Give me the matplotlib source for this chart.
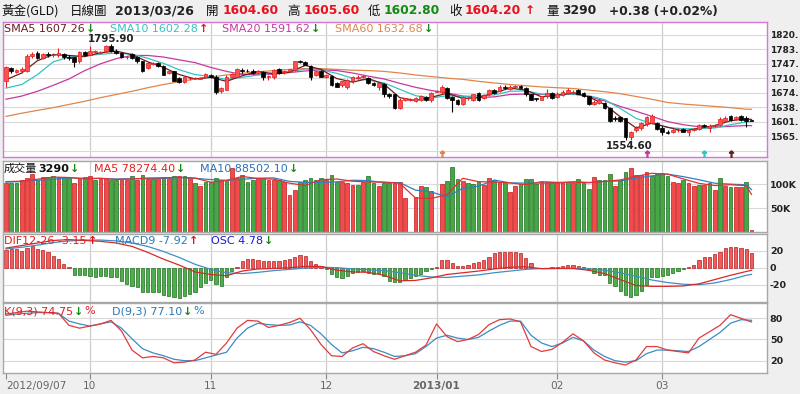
import numpy as np
import pandas as pd
import matplotlib
matplotlib.use('Agg')
import matplotlib.pyplot as plt

plt.rcParams['font.family'] = ['DejaVu Sans', 'Noto Sans CJK TC']
CJK = ['Noto Sans CJK TC', 'DejaVu Sans']

# one bar per weekday, 2012/09/07 .. 2013/03/26
dates = pd.bdate_range('2012-09-07', '2013-03-26')

opens = [1703, 1736, 1727, 1728, 1730, 1766, 1775, 1761, 1772, 1769,
         1768, 1772, 1764, 1763, 1753, 1776, 1770, 1776, 1775, 1778,
         1791, 1780, 1774, 1763, 1771, 1765, 1753, 1736, 1746, 1749,
         1741, 1724, 1728, 1711, 1701, 1711, 1711, 1710, 1713, 1720,
         1715, 1678, 1682, 1715, 1715, 1732, 1730, 1730, 1724, 1726,
         1713, 1713, 1735, 1726, 1730, 1732, 1754, 1751, 1741, 1719,
         1730, 1715, 1716, 1699, 1693, 1690, 1703, 1711, 1714, 1711,
         1699, 1690, 1696, 1671, 1670, 1637, 1657, 1657, 1654, 1657,
         1664, 1655, 1676, 1675, 1687, 1664, 1657, 1646, 1660, 1657,
         1674, 1661, 1670, 1682, 1678, 1688, 1685, 1688, 1691, 1686,
         1670, 1660, 1657, 1665, 1673, 1663, 1669, 1673, 1673, 1681,
         1673, 1665, 1646, 1649, 1648, 1636, 1610, 1613, 1610, 1564,
         1581, 1585, 1595, 1599, 1598, 1587, 1577, 1577, 1580, 1584,
         1577, 1581, 1584, 1594, 1586, 1590, 1594, 1604, 1615, 1608,
         1615, 1612, 1604.6]
highs = [1741, 1738, 1735, 1738, 1772, 1776, 1778, 1775, 1776, 1775,
         1787, 1775, 1770, 1765, 1778, 1779, 1791, 1781, 1780, 1795,
         1795.9, 1783, 1777, 1767, 1773, 1767, 1755, 1752, 1752, 1751,
         1743, 1731, 1730, 1713, 1715, 1715, 1714, 1714, 1723, 1722,
         1718, 1688, 1718, 1724, 1737, 1736, 1734, 1733, 1732, 1729,
         1718, 1734, 1737, 1731, 1735, 1754, 1756, 1754, 1744, 1730,
         1732, 1722, 1719, 1702, 1705, 1710, 1716, 1718, 1719, 1713,
         1701, 1700, 1699, 1674, 1672, 1660, 1662, 1660, 1664, 1668,
         1666, 1676, 1680, 1694, 1690, 1667, 1659, 1665, 1664, 1672,
         1676, 1671, 1684, 1685, 1693, 1694, 1693, 1694, 1693, 1688,
         1672, 1662, 1667, 1684, 1676, 1675, 1680, 1686, 1681, 1684,
         1675, 1667, 1655, 1659, 1651, 1639, 1616, 1615, 1612, 1578,
         1590, 1600, 1617, 1621, 1601, 1590, 1580, 1584, 1585, 1587,
         1584, 1587, 1596, 1597, 1595, 1597, 1613, 1615, 1618, 1617,
         1618, 1616, 1605.6]
lows = [1690, 1725, 1724, 1724, 1726, 1762, 1758, 1758, 1765, 1764,
        1764, 1760, 1757, 1738, 1750, 1767, 1768, 1773, 1772, 1776,
        1777, 1771, 1762, 1760, 1758, 1750, 1726, 1733, 1743, 1738,
        1718, 1721, 1703, 1699, 1699, 1707, 1708, 1708, 1711, 1711,
        1672, 1674, 1680, 1712, 1713, 1725, 1726, 1721, 1721, 1707,
        1706, 1710, 1722, 1722, 1727, 1730, 1750, 1743, 1707, 1716,
        1713, 1712, 1692, 1688, 1690, 1684, 1700, 1709, 1711, 1697,
        1692, 1682, 1664, 1662, 1633, 1633, 1654, 1654, 1651, 1654,
        1653, 1652, 1675, 1672, 1659, 1627, 1643, 1644, 1655, 1654,
        1654, 1658, 1667, 1672, 1675, 1683, 1682, 1686, 1684, 1667,
        1655, 1654, 1655, 1662, 1659, 1660, 1667, 1670, 1670, 1670,
        1663, 1643, 1643, 1646, 1634, 1600, 1604, 1600, 1554.6, 1556,
        1577, 1582, 1592, 1596, 1582, 1567, 1571, 1574, 1577, 1575,
        1565, 1579, 1582, 1588, 1577, 1588, 1592, 1601, 1604, 1605,
        1604, 1589, 1602.8]
closes = [1738, 1728, 1731, 1734, 1766, 1771, 1761, 1772, 1769, 1770,
          1773, 1764, 1762, 1751, 1776, 1770, 1780, 1778, 1777, 1791,
          1780, 1774, 1765, 1764, 1761, 1753, 1728, 1749, 1749, 1741,
          1720, 1728, 1705, 1701, 1713, 1712, 1711, 1712, 1721, 1713,
          1675, 1686, 1715, 1721, 1735, 1728, 1729, 1724, 1730, 1715,
          1716, 1732, 1724, 1729, 1733, 1753, 1752, 1745, 1713, 1728,
          1715, 1720, 1694, 1690, 1703, 1707, 1713, 1715, 1716, 1699,
          1694, 1698, 1670, 1665, 1636, 1657, 1660, 1657, 1661, 1665,
          1655, 1674, 1678, 1690, 1661, 1657, 1646, 1663, 1660, 1670,
          1657, 1669, 1682, 1674, 1690, 1686, 1690, 1692, 1686, 1670,
          1657, 1658, 1665, 1673, 1661, 1672, 1677, 1680, 1677, 1672,
          1665, 1645, 1652, 1656, 1636, 1603, 1609, 1603, 1562, 1576,
          1585, 1598, 1614, 1617, 1584, 1577, 1573, 1581, 1582, 1577,
          1581, 1584, 1594, 1590, 1592, 1594, 1609, 1612, 1607, 1614,
          1607, 1603.82, 1604.2]
# volume in thousands
volume = [103, 102, 102, 107.5, 112, 121, 107.5, 114, 114, 116,
          114, 112, 112, 103, 112, 114, 116, 107.5, 110, 112,
          109, 109, 109, 109, 116, 109, 119, 110, 110, 112,
          114, 112, 116, 116, 116, 112, 102, 95, 105, 105,
          112, 107.5, 107.5, 133, 112, 119, 105, 109, 112, 112,
          109, 109, 107.5, 105, 78, 88, 105, 109, 112, 107.5,
          112, 109, 119, 105, 105, 102, 98.5, 98.5, 105, 117,
          102, 95, 102, 103, 103, 105, 70.7, 1, 74, 96,
          94, 85, 1, 101, 107, 135, 110, 107, 103, 100.5,
          104, 97, 112, 107.5, 105, 105, 82.5, 95, 100.5, 110,
          110, 100, 104, 105, 104, 104, 103, 105, 103, 110,
          105, 90, 114, 109, 109, 121, 96, 107.5, 125, 133,
          118, 119, 125, 117, 121, 124, 116, 104, 102, 107.5,
          103, 96, 98.5, 98.5, 103, 88, 112, 96, 94, 94,
          94, 105, 3.29]
# colour of each volume bar as shown (R = up, G = down)
volume_dir = ('RGGRRRGRGG' 'RGGRRGRGRR' 'GGRRGRGRGR' 'GRGRGRGRGG' 'GRGRRGGGRG'
              'RRGRRRGGGG' 'GRGGRRRGRG' 'GRGGRRRRRR' 'GRRRGGGRGG' 'GRRGRGRRGG'
              'GGRRGRRGRG' 'GGRGGGRGGR' 'RRRGGGGRRG' 'RRGRGRGRGR' 'RGR')
osc = [20.8, 22, 22, 20, 23, 25, 22, 20.8, 18, 14,
       10, 4.3, 0.4, -8.2, -8.2, -9, -9.4, -10.6, -10, -10,
       -10.6, -11.4, -15.3, -19, -21, -23, -29, -29, -29, -29,
       -32, -33, -34, -35.7, -33, -31, -29, -23, -18.4, -14,
       -19, -21, -11.4, -4.3, 0.4, 8.2, 10, 10, 9, 7.5,
       8.2, 7.5, 8.2, 9, 10, 13, 15, 14, 8.2, 4.3,
       1.6, -1.6, -7.5, -10.6, -12.5, -9.4, -6.7, -4.7, -4.3, -6.7,
       -7.5, -6.7, -9.4, -15.3, -17, -17, -15, -12, -10, -7,
       -4, -1.5, 1, 9, 9, 5, 2, 2, 3, 5,
       7, 9, 13, 17, 19, 19, 19, 19, 17, 11,
       5, -0.4, -0.8, -0.4, 0.4, 1.2, 2, 3, 3, 2,
       0.4, -2.7, -6.7, -8.6, -8.6, -18.4, -22, -28, -32, -35,
       -32, -28, -20, -10.5, -10.5, -9.8, -8.6, -6.6, -4, -1,
       0.4, 3, 9, 12, 13, 16, 19, 23, 24, 24,
       23.5, 21.6, 17.6]

# indicator lines read every 3rd bar (plus the last bar)
sma5 = [1707, 1724, 1755, 1770, 1768, 1765, 1775, 1779, 1770, 1752, 1738, 1720,
        1709, 1713, 1703, 1717, 1728, 1722, 1726, 1743, 1733, 1710, 1701, 1710,
        1696, 1662, 1655, 1663, 1673, 1660, 1662, 1674, 1686, 1681, 1664, 1668,
        1674, 1664, 1645, 1614, 1586, 1598, 1588, 1578, 1585, 1592, 1604, 1609, 1607.26]
sma10 = [1686, 1695, 1720, 1752, 1764, 1767, 1771, 1774, 1771, 1761, 1748, 1732,
         1720, 1715, 1708, 1713, 1719, 1724, 1727, 1734, 1732, 1723, 1711, 1706,
         1699, 1683, 1667, 1661, 1667, 1665, 1667, 1669, 1678, 1679, 1671, 1670,
         1671, 1667, 1657, 1635, 1610, 1597, 1587, 1584, 1584, 1586, 1594, 1601, 1602.28]
sma20 = [1658, 1666, 1678, 1693, 1709, 1730, 1747, 1760, 1768, 1768, 1764, 1757,
         1750, 1738, 1728, 1720, 1720, 1721, 1725, 1729, 1732, 1730, 1724, 1716,
         1709, 1698, 1688, 1680, 1674, 1666, 1662, 1664, 1670, 1671, 1670, 1669,
         1671, 1665, 1654, 1640, 1628, 1615, 1602, 1594, 1589, 1588, 1590, 1592, 1591.62]
sma60 = [1615, 1623, 1630, 1637, 1645, 1653, 1662, 1670, 1678, 1687, 1695, 1702,
         1709, 1714, 1719, 1723, 1727, 1730, 1733, 1735, 1735, 1733, 1731, 1730,
         1728, 1724, 1719, 1715, 1711, 1708, 1703, 1699, 1695, 1692, 1689, 1687,
         1685, 1681, 1677, 1672, 1665, 1658, 1650, 1646, 1643, 1640, 1637, 1633, 1632.68]
vol_ma5 = [105, 106, 110, 114.5, 113.6, 110.6, 111.9, 109.5, 110.4, 112.6, 113, 114,
           112.4, 103.8, 107.4, 115.8, 111.4, 110.2, 101.7, 97, 109, 110.5, 105.9, 104.2,
           104.2, 101.6, 70.7, 70, 77.6, 112, 104.9, 104.2, 102.4, 98.6, 104.9, 103.4,
           103.8, 102.6, 105.4, 108.5, 115.9, 122.4, 120.6, 110.7, 101.4, 96.8, 98.6, 96.6, 78.2744]
vol_ma10 = [104, 105, 108, 109.9, 113, 111.9, 111.7, 110.5, 111.2, 111.2, 111.7, 113.4,
            112, 109.3, 107.8, 109.8, 112.2, 112.8, 105.5, 103.5, 103.3, 104.5, 107.9, 107.1,
            103, 102.9, 87.3, 83.4, 73.5, 91, 95.4, 108.3, 102.4, 101.9, 101.9, 101.5,
            104.8, 103.3, 105.2, 106.5, 112.3, 117, 120.6, 115.4, 108.9, 101.7, 99.8, 98.3, 88.5021]
dif = [23, 26, 29, 32, 33, 32, 31, 29, 25, 18, 10, 3,
       -5, -8, -9.5, -4, -1.5, -1, 0, 1.5, 1.5, -3, -5, -5.5,
       -9, -15.5, -15, -12, -8, -6, -4, -1.5, 0.5, 1, -1.2, -1,
       -1, -3, -7, -14, -21, -22, -22, -21.5, -19, -14, -9, -4.5, -3.15]
macd9 = [22, 24, 26.5, 29.5, 31.5, 32.5, 32.5, 31.5, 29, 25, 19, 12,
         4, -2, -6, -7, -5.5, -3.5, -2, -0.5, 0.5, 0, -1.5, -2.5,
         -3.5, -6, -9, -11, -11.5, -10, -8.5, -6, -4, -2, -1, -0.8,
         -0.8, -1.5, -3, -6, -10, -14.5, -17.5, -19.5, -20, -18, -14, -9, -7.92]
osc_last = 4.78

# KD read every 2nd bar
k_line = [86, 88, 90, 89, 88, 87, 70, 66, 69, 72, 77, 62, 35, 24, 26, 24, 17, 18,
          21, 32, 29, 45, 66, 77, 76, 67, 70, 74, 80, 64, 43, 27, 26, 38, 44, 33,
          27, 22, 27, 32, 42, 72, 54, 47, 50, 57, 71, 78, 79, 75, 40, 33, 36, 46,
          58, 48, 31, 21, 17, 14, 21, 40, 40, 35, 33, 31, 52, 61, 70, 85, 80, 74.75]
d_line = [84, 86, 87, 88, 88, 87, 76, 72, 69, 72, 75, 66, 51, 37, 31, 27, 22, 20,
          20, 24, 28, 32, 52, 66, 73, 71, 70, 70.5, 75, 70, 58, 43, 31, 34, 39, 37,
          32, 26, 27, 30, 40, 52, 56, 52, 50, 53, 62, 70, 76, 76, 56, 45, 40, 45,
          53, 48, 35, 26, 20, 18, 20, 30, 35, 35, 34, 33, 40, 50, 60, 73, 78, 77.1]

# little signal ticks at the bottom of the price panel
signal_idx = [83, 122, 133, 138]

price_ticks = [1820.00, 1783.60, 1747.20, 1710.80, 1674.40, 1638.00, 1601.60, 1565.20]

W, H = 800, 394
RED, GREEN = '#e8101c', '#138a13'
C5, C10, C20, C60 = '#6e1c1c', '#34c3c3', '#c8389e', '#e0864a'
BLUE = '#2f80c0'

n = len(dates)
x = np.arange(n)
o, hi, lo, c = map(np.array, (opens, highs, lows, closes))
up = c >= o
vup = np.array([ch == 'R' for ch in volume_dir])
x3 = np.r_[np.arange(0, n - 1, 3), n - 1]
x2 = np.arange(0, n, 2)

fig = plt.figure(figsize=(8, 3.94), dpi=100, facecolor='#efefef')
renderer = fig.canvas.get_renderer()


def box(x0, y0, x1, y1):
    return [x0 / W, 1 - y1 / H, (x1 - x0) / W, (y1 - y0) / H]


ax_p = fig.add_axes(box(3, 22, 767, 157))
ax_v = fig.add_axes(box(3, 161, 767, 232))
ax_m = fig.add_axes(box(3, 234, 767, 302))
ax_k = fig.add_axes(box(3, 303, 767, 373))

month_pos = [i for i in range(1, n) if dates[i].month != dates[i - 1].month]

for ax in (ax_p, ax_v, ax_m, ax_k):
    ax.set_facecolor('white')
    ax.set_xlim(-0.57, 144.95)
    for sp in ax.spines.values():
        sp.set_color('#a8a8a8')
        sp.set_linewidth(1)
    ax.yaxis.tick_right()
    ax.tick_params(axis='y', length=0, pad=2, labelsize=6.8, labelcolor='#222222')
    ax.tick_params(axis='x', length=0, labelbottom=False)
    for m in month_pos:
        ax.axvline(m, color='#cdcdcd', lw=0.9, zorder=0)
for sp in ax_p.spines.values():
    sp.set_color('#d27ad2')


def hgrid(ax, vals):
    for v in vals:
        ax.axhline(v, color='#d9d9d9', lw=0.8, zorder=0)


# ---- price panel (labels show only the part visible in the frame)
ax_p.set_ylim(1513, 1852)
ax_p.set_yticks(price_ticks, ['%d.' % int(v) for v in price_ticks], fontweight='bold')
ax_p.tick_params(axis='y', labelsize=6.5)
hgrid(ax_p, price_ticks + [1528.80])
for vals, col in ((sma60, C60), (sma20, C20), (sma10, C10), (sma5, C5)):
    ax_p.plot(x3, vals, color=col, lw=0.9, zorder=2)
wick_col = np.where(up, '#e02020', '#000000')
ax_p.vlines(x, lo, hi, colors=wick_col, lw=0.8, zorder=3)
ax_p.bar(x, np.maximum(np.abs(c - o), 0.9), bottom=np.minimum(o, c), width=0.72,
         color=np.where(up, '#ff5050', '#000000'), edgecolor=wick_col, lw=0.5, zorder=4)
top_i, bot_i = int(np.argmax(hi)), int(np.argmin(lo))
ax_p.annotate('%.2f' % hi[top_i], (top_i, hi[top_i]), xytext=(0, 0.5),
              textcoords='offset points', ha='center', va='bottom',
              fontsize=7.4, fontweight='bold', color='#222222')
ax_p.annotate('%.2f' % lo[bot_i], (bot_i, lo[bot_i]), xytext=(3, -0.5),
              textcoords='offset points', ha='center', va='top',
              fontsize=7.4, fontweight='bold', color='#222222')
for i, col in zip(signal_idx, (C60, C20, C10, C5)):
    ax_p.plot(i, 1521, marker=r'$\uparrow$', ms=5, color=col, zorder=5)

# ---- volume panel
ax_v.set_ylim(0, 148)
ax_v.set_yticks([100, 50], ['100K', '50K'], fontweight='bold')
hgrid(ax_v, [50, 100])
ax_v.bar(x, volume, width=0.72, color=np.where(vup, '#f24b4b', '#45a845'),
         edgecolor=np.where(vup, '#c41a1a', '#1f6e1f'), lw=0.5, zorder=2)
ax_v.plot(x3, vol_ma10, color=BLUE, lw=0.9, zorder=3)
ax_v.plot(x3, vol_ma5, color='#e33030', lw=0.9, zorder=3)

# ---- MACD panel
ax_m.set_ylim(-40.4, 39.6)
ax_m.set_yticks([20, 0, -20], ['20', '0', '-20'], fontweight='bold')
hgrid(ax_m, [20, 0, -20])
osc_a = np.array(osc)
pos = osc_a >= 0
ax_m.bar(x, osc_a, width=0.62, color=np.where(pos, '#f25c5c', '#4db04d'),
         edgecolor=np.where(pos, '#b32020', '#1f6e1f'), lw=0.5, zorder=2)
ax_m.plot(x3, macd9, color='#3f8fc4', lw=0.9, zorder=3)
ax_m.plot(x3, dif, color='#d62a2a', lw=0.9, zorder=3)

# ---- KD panel
ax_k.set_ylim(2.6, 101.6)
ax_k.set_yticks([80, 50, 20], ['80', '50', '20'], fontweight='bold')
hgrid(ax_k, [20, 50, 80])
ax_k.plot(x2, d_line, color='#3a8cc4', lw=0.9, zorder=3)
ax_k.plot(x2, k_line, color='#e03c3c', lw=0.9, zorder=3)

tick_pos = [0] + month_pos
tick_labels = ['2012/09/07', '10', '11', '12', '2013/01', '02', '03']
ax_k.set_xticks(tick_pos, tick_labels)
ax_k.tick_params(axis='x', length=4, width=0.8, color='#888888', direction='out',
                 pad=1.5, labelbottom=True, labelsize=7.6, labelcolor='#666666')
labs = ax_k.get_xticklabels()
labs[0].set_ha('left')
labs[0].set_x(-0.4)
labs[4].set_fontweight('bold')


# ---- texts
def chain(x0, y0, pieces, size=8):
    xx = x0
    for s, col, w, fam in pieces:
        t = fig.text(xx / W, 1 - y0 / H, s, color=col, fontsize=size, fontweight=w,
                     family=fam, va='center', ha='left')
        xx += t.get_window_extent(renderer).width + 1
    return xx


DN = ('↓', GREEN, 'bold', None)
UPA = ('↑', RED, 'bold', None)


def item(label, col, arrow, tail=None):
    p = [(label, col, 'normal', None), arrow]
    if tail:
        p.append((tail, col, 'normal', None))
    return p


chain(4, 28.5, item('SMA5 %.2f' % sma5[-1], C5, DN))
chain(110, 28.5, item('SMA10 %.2f' % sma10[-1], C10, UPA))
chain(222, 28.5, item('SMA20 %.2f' % sma20[-1], C20, DN))
chain(335, 28.5, item('SMA60 %.2f' % sma60[-1], C60, DN))

last_vol = volume[-1] * 1000
chain(4, 169, [('成交量', '#111111', 'normal', CJK),
               ('%d' % round(last_vol), '#111111', 'bold', None), DN])
chain(94, 169, item('MA5 %.2f' % (vol_ma5[-1] * 1000), '#e32020', DN))
chain(200, 169, item('MA10 %.2f' % (vol_ma10[-1] * 1000), '#2a70b8', DN))

chain(4, 241, item('DIF12-26 %.2f' % dif[-1], '#e02020', UPA))
chain(115, 241, item('MACD9 %.2f' % macd9[-1], '#2a7ab8', UPA))
chain(211, 241, item('OSC %.2f' % osc_last, '#1a1acc', DN))

chain(4, 311.5, item('K(9,3) %.2f' % k_line[-1], '#e02020', DN, '%'))
chain(112, 311.5, item('D(9,3) %.2f' % d_line[-1], '#2a7ab8', DN, '%'))


def htext(px, s, col='#222222', w='bold', size=8.8, fam=None):
    fig.text(px / W, 1 - 11 / H, s, color=col, fontsize=size, fontweight=w,
             family=fam, va='center', ha='left')


chg = c[-1] - c[-2]
htext(2, '黃金(GLD)', '#111111', 'normal', 9, CJK)
htext(70, '日線圖', '#111111', 'normal', 9, CJK)
htext(115, dates[-1].strftime('%Y/%m/%d'), '#222222', 'bold', 9)
htext(206, '開', '#111111', 'normal', 9, CJK)
htext(223, '%.2f' % o[-1], RED)
htext(287, '高', '#111111', 'normal', 9, CJK)
htext(304, '%.2f' % hi[-1], RED)
htext(368, '低', '#111111', 'normal', 9, CJK)
htext(384, '%.2f' % lo[-1], GREEN)
htext(449, '收', '#111111', 'normal', 9, CJK)
htext(465, '%.2f' % c[-1], RED)
htext(525, '↑', RED)
htext(546, '量', '#111111', 'normal', 9, CJK)
htext(562, '%d' % round(last_vol))
htext(609, '%+.2f (%+.2f%%)' % (chg, chg / c[-2] * 100))

fig.savefig('out.png', dpi=100, facecolor=fig.get_facecolor())
